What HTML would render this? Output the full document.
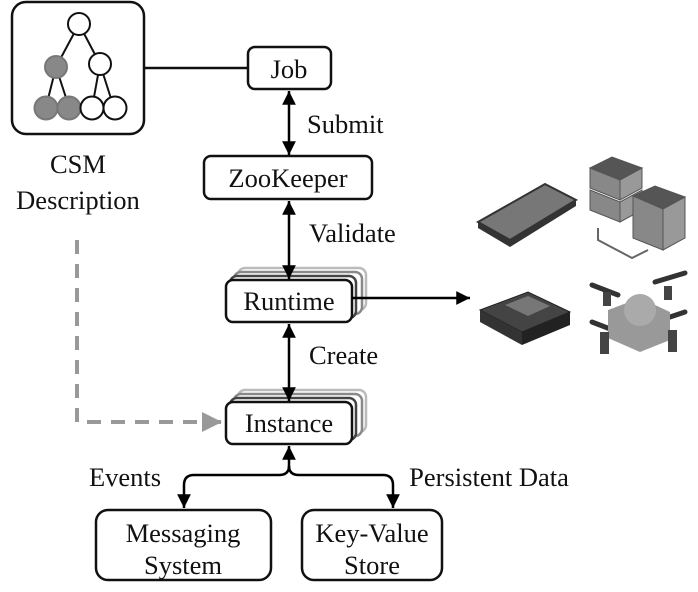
<!DOCTYPE html>
<html><head><style>body{margin:0;background:#fff}svg{display:block}.t{font-family:"Liberation Serif","Times New Roman",Times,"DejaVu Serif",serif;font-size:26.5px;fill:#111}</style></head><body>
<svg width="698" height="592" viewBox="0 0 698 592">
<defs>
<marker id="a" viewBox="0 0 10 10" refX="10" refY="5" markerWidth="6.5" markerHeight="5.5" orient="auto-start-reverse"><path d="M0,0L10,5L0,10z" fill="#000"/></marker>
<marker id="g" viewBox="0 0 10 10" refX="10" refY="5" markerWidth="5" markerHeight="5" orient="auto"><path d="M0,0L10,5L0,10z" fill="#999"/></marker>
</defs>
<g stroke="#111" stroke-width="2.5" fill="#fff">
<rect x="12" y="2" width="132" height="132" rx="14"/>
<line x1="144" y1="68" x2="248" y2="68"/>
</g>
<g stroke="#111" stroke-width="2" fill="none">
<line x1="79" y1="24" x2="56" y2="67"/><line x1="79" y1="24" x2="100" y2="64"/>
<line x1="56" y1="67" x2="46" y2="107"/><line x1="56" y1="67" x2="69" y2="107"/>
<line x1="100" y1="64" x2="92" y2="108"/><line x1="100" y1="64" x2="114" y2="108"/>
</g>
<g stroke-width="2">
<circle cx="79" cy="24" r="11" fill="#fff" stroke="#111"/>
<circle cx="56" cy="67" r="11" fill="#888" stroke="#777"/>
<circle cx="100" cy="64" r="11" fill="#fff" stroke="#111"/>
<circle cx="46" cy="108" r="11.5" fill="#888" stroke="#777"/>
<circle cx="69" cy="108" r="11.5" fill="#888" stroke="#777"/>
<circle cx="92" cy="108" r="11.5" fill="#fff" stroke="#111"/>
<circle cx="115" cy="108" r="11.5" fill="#fff" stroke="#111"/>
</g>
<path d="M77,240V422H222" stroke="#999" stroke-width="4" fill="none" stroke-dasharray="14,10" marker-end="url(#g)"/>
<g stroke="#111" stroke-width="2.5" fill="#fff">
<rect x="248" y="47" width="83" height="42" rx="7"/>
<rect x="204" y="156" width="168" height="43" rx="7"/>
<rect x="238" y="268" width="128" height="42" rx="7" stroke="#bbb"/>
<rect x="234" y="272" width="128" height="42" rx="7" stroke="#888"/>
<rect x="230" y="276" width="126" height="42" rx="7" stroke="#444"/>
<rect x="226" y="280" width="126" height="42" rx="7"/>
<rect x="238" y="390" width="128" height="42" rx="7" stroke="#bbb"/>
<rect x="234" y="394" width="128" height="42" rx="7" stroke="#888"/>
<rect x="230" y="398" width="126" height="42" rx="7" stroke="#444"/>
<rect x="226" y="402" width="126" height="42" rx="7"/>
<rect x="96" y="510" width="175" height="70" rx="12"/>
<rect x="302" y="510" width="140" height="70" rx="12"/>
</g>
<g stroke="#000" stroke-width="2.5" fill="none">
<line x1="289" y1="91" x2="289" y2="155" marker-start="url(#a)" marker-end="url(#a)"/>
<line x1="289" y1="201" x2="289" y2="279" marker-start="url(#a)" marker-end="url(#a)"/>
<line x1="289" y1="324" x2="289" y2="401" marker-start="url(#a)" marker-end="url(#a)"/>
<line x1="352" y1="298" x2="470" y2="298" marker-end="url(#a)"/>
<line x1="289" y1="446" x2="289" y2="470" marker-start="url(#a)"/>
<path d="M289,466Q289,475 279,475H194Q184,475 184,485V508" marker-end="url(#a)"/>
<path d="M289,466Q289,475 299,475H383Q393,475 393,485V508" marker-end="url(#a)"/>
</g>
<g class="t">
<text class="t" x="78" y="173" text-anchor="middle">CSM</text>
<text class="t" x="78" y="209" text-anchor="middle">Description</text>
<text class="t" x="289" y="78" text-anchor="middle">Job</text>
<text class="t" x="288" y="187" text-anchor="middle">ZooKeeper</text>
<text class="t" x="289" y="310" text-anchor="middle">Runtime</text>
<text class="t" x="289" y="432" text-anchor="middle">Instance</text>
<text class="t" x="307" y="133">Submit</text>
<text class="t" x="309" y="242">Validate</text>
<text class="t" x="309" y="364">Create</text>
<text class="t" x="125" y="486" text-anchor="middle">Events</text>
<text class="t" x="489" y="486" text-anchor="middle">Persistent Data</text>
<text class="t" x="183" y="542" text-anchor="middle">Messaging</text>
<text class="t" x="183" y="574" text-anchor="middle">System</text>
<text class="t" x="372" y="542" text-anchor="middle">Key-Value</text>
<text class="t" x="372" y="574" text-anchor="middle">Store</text>
</g>
<g>
<path d="M478,222L545,184L576,200L510,240Z" fill="#777" stroke="#333" stroke-width="2"/>
<path d="M478,222L510,240L576,200L576,206L510,247L478,228Z" fill="#333"/>
<g fill="#888" stroke="#555">
<path d="M590,168L612,157L642,168L620,180Z" fill="#555"/><path d="M590,168L620,180V200L590,188Z"/><path d="M620,180L642,168V188L620,200Z" fill="#999"/>
<path d="M590,190L620,202V222L590,210Z"/><path d="M620,202L642,190V210L620,222Z" fill="#999"/>
<path d="M633,196L655,186L685,197L663,209Z" fill="#555"/><path d="M633,196L663,209V250L633,238Z"/><path d="M663,209L685,197V238L663,250Z" fill="#999"/>
</g>
<path d="M598,228V240L632,258L648,250" fill="none" stroke="#666" stroke-width="2"/>
<path d="M480,310L528,292L570,312L522,332Z" fill="#444" stroke="#222"/>
<path d="M480,310L522,332V345L480,322Z" fill="#333"/><path d="M522,332L570,312V325L522,345Z" fill="#222"/>
<path d="M505,305L528,296L550,306L528,316Z" fill="#777"/>
<g stroke="#333" stroke-width="5" stroke-linecap="round">
<line x1="592" y1="285" x2="618" y2="295"/><line x1="655" y1="282" x2="685" y2="273"/>
<line x1="592" y1="322" x2="618" y2="332"/><line x1="655" y1="322" x2="685" y2="312"/>
</g>
<path d="M608,310L640,298L670,312V340L640,352L608,338Z" fill="#999"/>
<circle cx="640" cy="310" r="16" fill="#aaa"/>
<g fill="#444"><rect x="600" y="332" width="9" height="22"/><rect x="668" y="330" width="9" height="22"/><rect x="603" y="292" width="8" height="14"/><rect x="664" y="286" width="8" height="14"/></g>
</g>
</svg>
</body></html>
